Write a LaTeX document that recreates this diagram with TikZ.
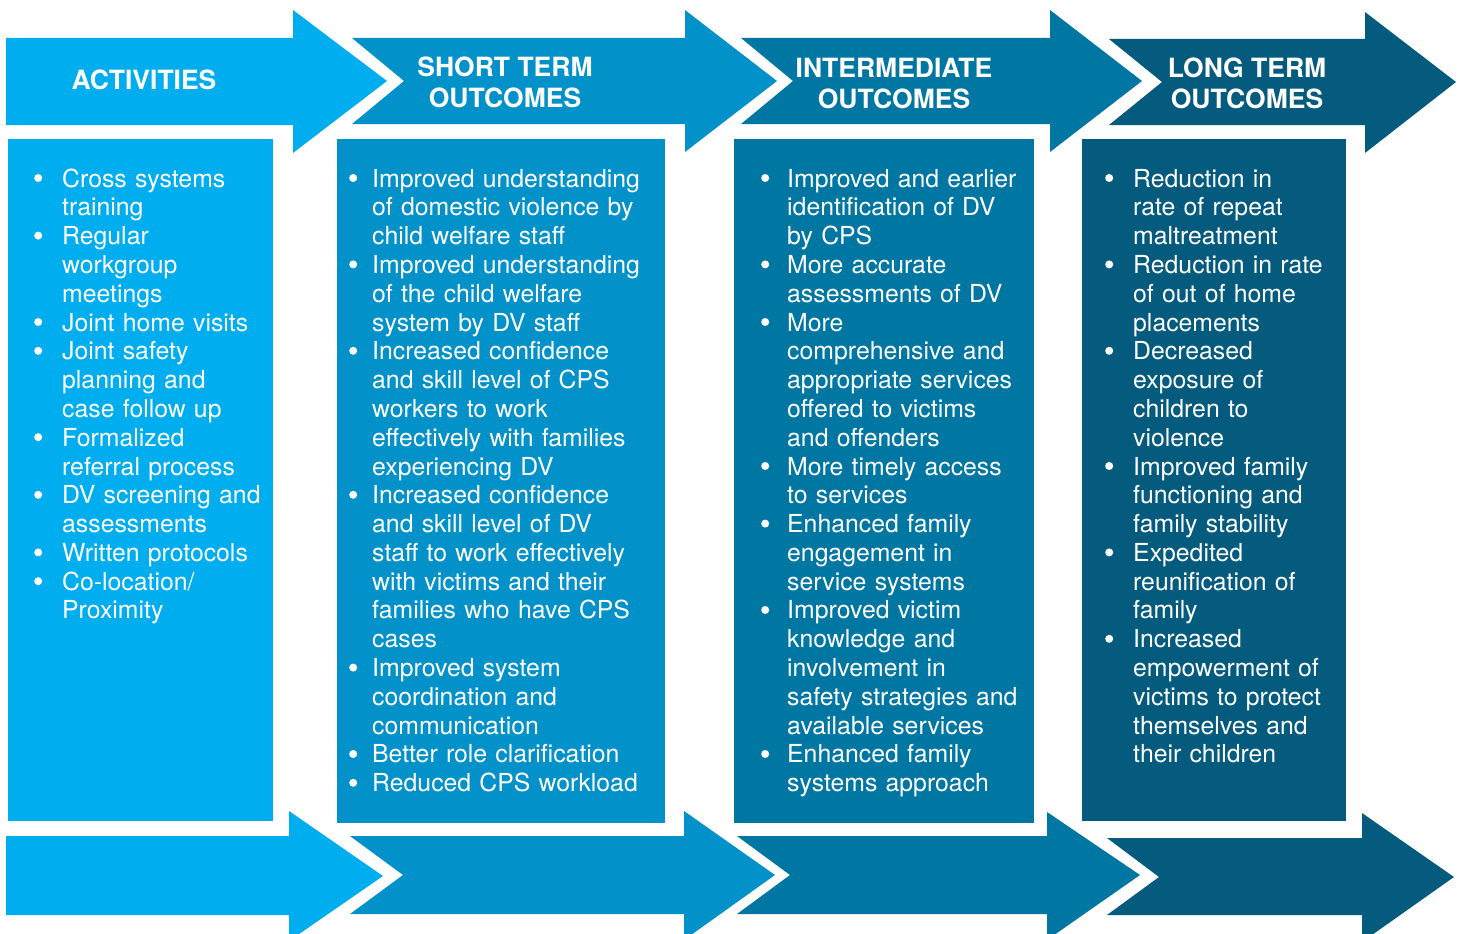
\documentclass[tikz,border=0pt]{standalone}
\usepackage{fontspec}
\setmainfont{TeX Gyre Heros}
\definecolor{cA}{RGB}{0,174,239}
\definecolor{cB}{RGB}{2,146,201}
\definecolor{cC}{RGB}{0,118,163}
\definecolor{cD}{RGB}{4,91,126}
\newcommand{\bl}{\leavevmode\llap{\tikz[baseline=0pt,x=1pt,y=1pt]\fill[white] (0,9) circle (4);\hspace{\bgap}}}
\tikzset{
  hdr/.style={text=white, align=center, inner sep=0pt, font=\bfseries\fontsize{26.5}{31}\selectfont},
  list/.style={text=white, anchor=base west, inner sep=0pt, text width=330pt, align=left, font=\fontsize{24.8}{28.8}\selectfont\def\bgap{#1}},
}
\begin{document}
\begin{tikzpicture}[x=1pt,y=-1pt]
\useasboundingbox (0,0) rectangle (1460,934);
\clip (0,0) rectangle (1460,934);
% top arrows
\fill[cA] (6,38) -- (293,38) -- (293,10) -- (387,81) -- (293,153) -- (293,125) -- (6,125) -- cycle;
\fill[cB] (352,38) -- (685,38) -- (685,10) -- (777,81) -- (685,152) -- (685,124) -- (352,124) -- (404,81) -- cycle;
\fill[cC] (741,38) -- (1050,38) -- (1050,10) -- (1142,81) -- (1050,152) -- (1050,124) -- (741,124) -- (793,81) -- cycle;
\fill[cD] (1109,39) -- (1365,39) -- (1365,12) -- (1456,82) -- (1365,153) -- (1365,125) -- (1109,125) -- (1162,82) -- cycle;
% bottom arrows
\fill[cA] (6,836) -- (289,836) -- (289,811) -- (383,876) -- (289,941) -- (289,915) -- (6,915) -- cycle;
\fill[cB] (350,836) -- (684,836) -- (684,811) -- (775,875) -- (684,940) -- (684,914) -- (350,914) -- (403,875) -- cycle;
\fill[cC] (737,836) -- (1047,836) -- (1047,812) -- (1140,875) -- (1047,940) -- (1047,914) -- (737,914) -- (790,875) -- cycle;
\fill[cD] (1107,838) -- (1362,838) -- (1362,813) -- (1454,877) -- (1362,942) -- (1362,915) -- (1107,915) -- (1159,877) -- cycle;
% boxes
\fill[cA] (8,139) rectangle (273,821);
\fill[cB] (337,139) rectangle (665,823);
\fill[cC] (734,139) rectangle (1034,823);
\fill[cD] (1082,139) rectangle (1346,821);
% headers
\node[hdr] (h1) at (144,80) {ACTIVITIES};
\node[hdr] (h2) at (505,82.5) {SHORT TERM\\OUTCOMES};
\node[hdr] (h3) at (894,83.5) {INTERMEDIATE\\OUTCOMES};
\node[hdr] (h4) at (1247,83.5) {LONG TERM\\OUTCOMES};
% lists
\node[list=20pt] (l1) at (62,187) {\bl Cross systems\\ training\\
\bl Regular\\ workgroup\\ meetings\\
\bl Joint home visits\\
\bl Joint safety\\ planning and\\ case follow up\\
\bl Formalized\\ referral process\\
\bl DV screening and\\ assessments\\
\bl Written protocols\\
\bl Co-location/\\ Proximity};
\node[list=15pt] (l2) at (372,187) {\bl Improved understanding\\ of domestic violence by\\ child welfare staff\\
\bl Improved understanding\\ of the child welfare\\ system by DV staff\\
\bl Increased confidence\\ and skill level of CPS\\ workers to work\\ effectively with families\\ experiencing DV\\
\bl Increased confidence\\ and skill level of DV\\ staff to work effectively\\ with victims and their\\ families who have CPS\\ cases\\
\bl Improved system\\ coordination and\\ communication\\
\bl Better role clarification\\
\bl Reduced CPS workload};
\node[list=18pt] (l3) at (787,187) {\bl Improved and earlier\\ identification of DV\\ by CPS\\
\bl More accurate\\ assessments of DV\\
\bl More\\ comprehensive and\\ appropriate services\\ offered to victims\\ and offenders\\
\bl More timely access\\ to services\\
\bl Enhanced family\\ engagement in\\ service systems\\
\bl Improved victim\\ knowledge and\\ involvement in\\ safety strategies and\\ available services\\
\bl Enhanced family\\ systems approach};
\node[list=20pt] (l4) at (1133,187) {\bl Reduction in\\ rate of repeat\\ maltreatment\\
\bl Reduction in rate\\ of out of home\\ placements\\
\bl Decreased\\ exposure of\\ children to\\ violence\\
\bl Improved family\\ functioning and\\ family stability\\
\bl Expedited\\ reunification of\\ family\\
\bl Increased\\ empowerment of\\ victims to protect\\ themselves and\\ their children};
\end{tikzpicture}
\end{document}
